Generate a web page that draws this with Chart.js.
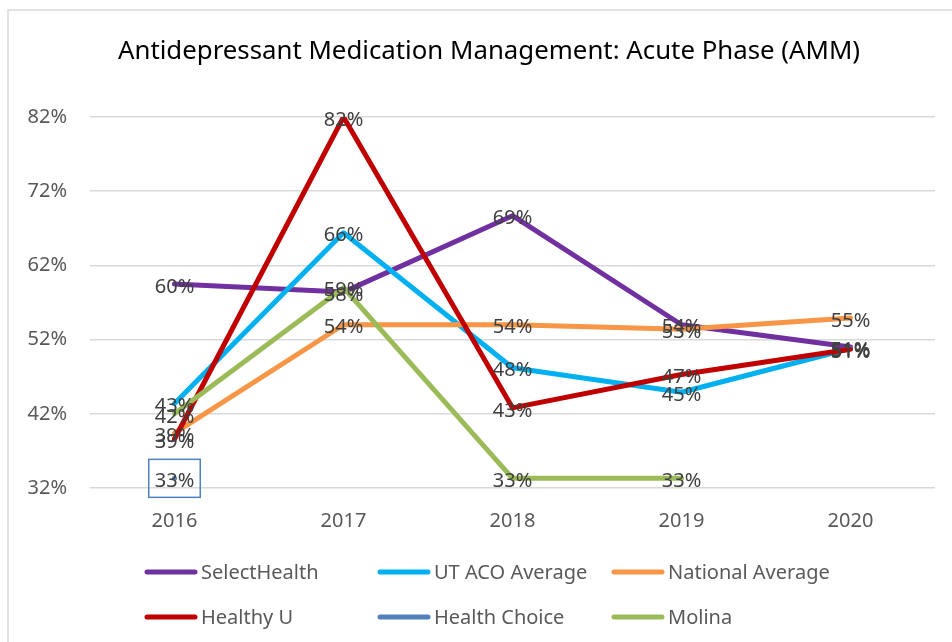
<!DOCTYPE html>
<html>
<head>
<meta charset="utf-8">
<script src="https://cdn.jsdelivr.net/npm/chart.js@4.4.1/dist/chart.umd.min.js"></script>
<style>
  html, body { margin: 0; padding: 0; background: #fff; }
  #wrap { width: 952px; height: 642px; position: relative; }
</style>
</head>
<body>
<div id="wrap"><canvas id="ammChart" width="952" height="642"></canvas></div>
<script>
// chart data
const chartTitle = 'Antidepressant Medication Management: Acute Phase (AMM)';
const years = ['2016', '2017', '2018', '2019', '2020'];
const yTicks = [32, 42, 52, 62, 72, 82];

const selectHealth = [59.5, 58.4, 68.7, 54.0, 51.0];
const utAcoAverage = [43.4, 66.4, 48.2, 44.9, 50.8];
const nationalAverage = [39.4, 54.0, 54.0, 53.4, 54.9];
const healthyU = [38.6, 82.0, 42.8, 47.3, 50.7];
const healthChoice = [33.3, null, null, null, null];
const molina = [42.0, 59.0, 33.3, 33.3, null];

const seriesNames = ['SelectHealth', 'UT ACO Average', 'National Average', 'Healthy U', 'Health Choice', 'Molina'];
const seriesColors = ['#7030A0', '#00B0F0', '#F79646', '#C00000', '#4F81BD', '#9BBB59'];
const seriesValues = [selectHealth, utAcoAverage, nationalAverage, healthyU, healthChoice, molina];

const FONT = '"Noto Sans", "Open Sans", sans-serif';

// white background, light frame (only top and left visible) and the title
const framePlugin = {
    id: 'frame',
    beforeDraw(chart) {
        const ctx = chart.ctx;
        ctx.save();
        ctx.fillStyle = '#fff';
        ctx.fillRect(0, 0, chart.width, chart.height);
        ctx.strokeStyle = '#d9d9d9';
        ctx.lineWidth = 1.5;
        ctx.strokeRect(8, 10, chart.width + 20, chart.height + 20);
        ctx.font = '25.8px ' + FONT;
        ctx.fillStyle = '#000';
        ctx.textAlign = 'center';
        ctx.textBaseline = 'middle';
        ctx.fillText(chartTitle, 489, 52);
        ctx.restore();
    }
};

// value labels centred on each point
const valueLabels = {
    id: 'valueLabels',
    afterDatasetsDraw(chart) {
        const ctx = chart.ctx;
        ctx.save();
        ctx.font = '20px ' + FONT;
        ctx.fillStyle = '#404040';
        ctx.textAlign = 'center';
        ctx.textBaseline = 'middle';
        chart.data.datasets.forEach((ds, i) => {
            const meta = chart.getDatasetMeta(i);
            meta.data.forEach((pt, j) => {
                const v = ds.data[j];
                if (v === null || v === undefined) return;
                const txt = Math.round(v) + '%';
                if (ds.label === 'Health Choice') {
                    const w = ctx.measureText(txt).width;
                    ctx.strokeStyle = ds.borderColor;
                    ctx.lineWidth = 1.5;
                    ctx.strokeRect(pt.x - w / 2 - 6, pt.y - 19, w + 12, 38);
                }
                ctx.fillText(txt, pt.x, pt.y + 3);
            });
        });
        ctx.restore();
    }
};

// legend in 3 columns, 2 rows
const gridLegend = {
    id: 'gridLegend',
    afterDraw(chart) {
        const ctx = chart.ctx;
        const colX = [145, 378, 612];
        const rowY = [572, 617];
        ctx.save();
        ctx.font = '20px ' + FONT;
        ctx.fillStyle = '#595959';
        ctx.textBaseline = 'middle';
        ctx.lineCap = 'round';
        chart.data.datasets.forEach((ds, i) => {
            const x = colX[i % 3];
            const y = rowY[Math.floor(i / 3)];
            ctx.strokeStyle = ds.borderColor;
            ctx.lineWidth = 5;
            ctx.beginPath();
            ctx.moveTo(x + 2, y);
            ctx.lineTo(x + 50, y);
            ctx.stroke();
            ctx.fillText(ds.label, x + 56, y + 1);
        });
        ctx.restore();
    }
};

const datasets = seriesNames.map((name, i) => ({
    label: name,
    data: seriesValues[i],
    borderColor: seriesColors[i],
    backgroundColor: seriesColors[i],
    borderWidth: 5,
    pointRadius: 0,
    pointHoverRadius: 0,
    tension: 0,
    spanGaps: false,
    borderJoinStyle: 'round',
    borderCapStyle: 'round',
    order: seriesNames.length - i
}));

new Chart(document.getElementById('ammChart'), {
    type: 'line',
    data: { labels: years, datasets: datasets },
    plugins: [framePlugin, valueLabels, gridLegend],
    options: {
        responsive: false,
        animation: false,
        layout: { padding: { left: 0, right: 17, top: 117, bottom: 104 } },
        plugins: {
            legend: { display: false },
            tooltip: { enabled: false },
            title: { display: false }
        },
        scales: {
            x: {
                offset: true,
                grid: { display: false },
                border: { display: false },
                ticks: { color: '#595959', font: { family: FONT, size: 20 }, padding: 13 },
                afterFit(scale) { scale.height = 50; }
            },
            y: {
                min: 32,
                max: 82,
                afterBuildTicks(scale) { scale.ticks = yTicks.map(v => ({ value: v })); },
                grid: { color: '#d9d9d9', lineWidth: 1.5, drawTicks: false },
                border: { display: false },
                ticks: {
                    color: '#595959',
                    font: { family: FONT, size: 20 },
                    padding: 23,
                    callback: v => v + '%'
                },
                afterFit(scale) { scale.width = 90; }
            }
        }
    }
});
</script>
</body>
</html>
